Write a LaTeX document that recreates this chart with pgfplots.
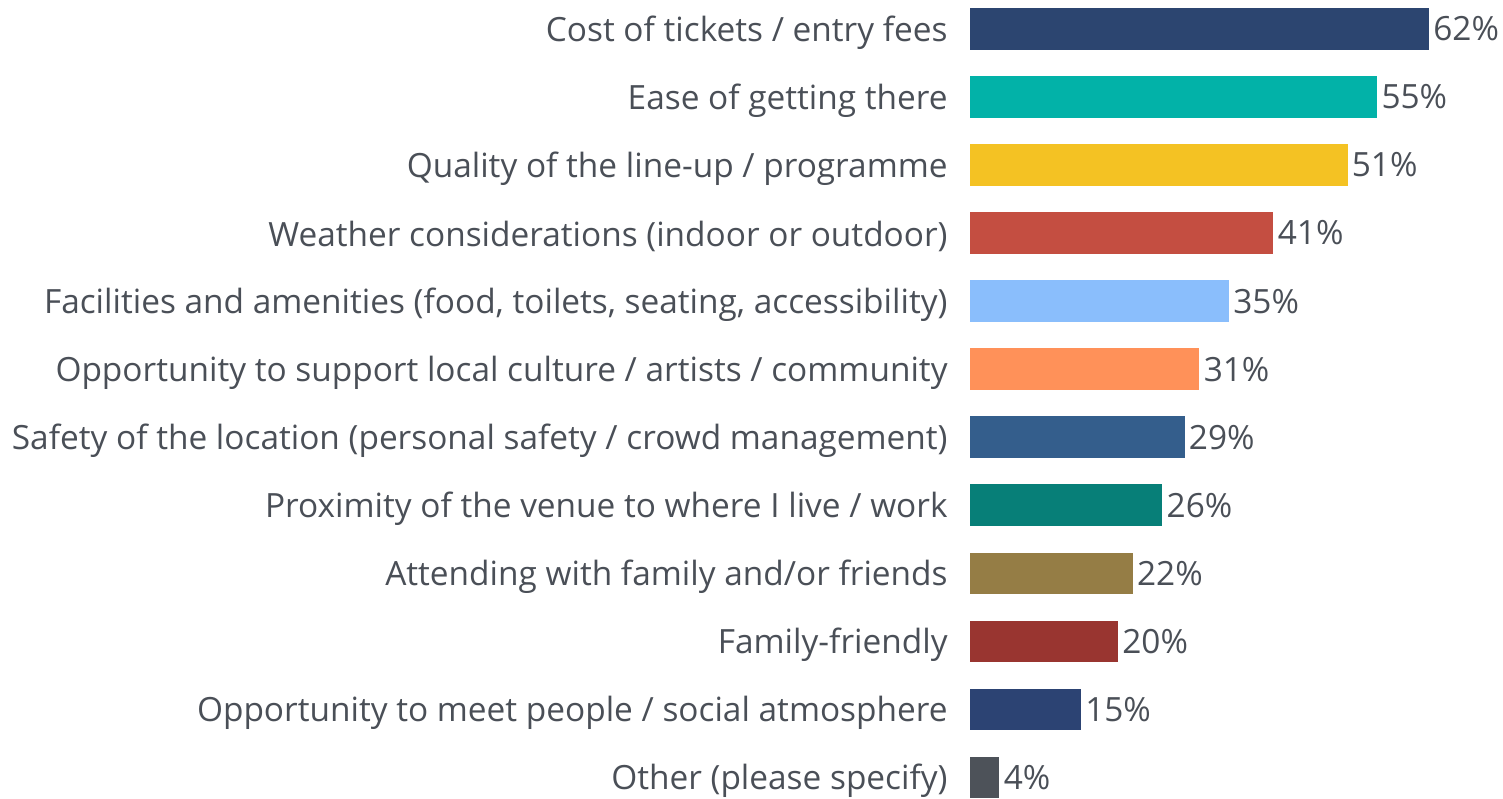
\documentclass[border=0pt]{standalone}
\usepackage{fontspec}
\setmainfont{Open Sans}
\usepackage{pgfplots}
\pgfplotsset{compat=1.18}
\definecolor{txt}{HTML}{4A4F57}
\definecolor{c1}{HTML}{2C4570}
\definecolor{c2}{HTML}{02B2A8}
\definecolor{c3}{HTML}{F4C223}
\definecolor{c4}{HTML}{C44E41}
\definecolor{c5}{HTML}{8ABEFC}
\definecolor{c6}{HTML}{FF9159}
\definecolor{c7}{HTML}{345E8C}
\definecolor{c8}{HTML}{077F78}
\definecolor{c9}{HTML}{957D45}
\definecolor{c10}{HTML}{993530}
\definecolor{c11}{HTML}{2C4373}
\definecolor{c12}{HTML}{4D5259}
\begin{document}
\begin{tikzpicture}
\begin{axis}[
  xbar, bar shift=0pt, bar width=21pt,
  scale only axis, width=267.5pt, height=401.5pt,
  xmin=0, xmax=71.8, ymin=-0.423, ymax=11.30, y dir=reverse,
  axis line style={draw=none}, tick style={draw=none},
  major tick length=0pt,
  xtick=\empty, ytick={0,...,11},
  yticklabels={Cost of tickets / entry fees,
    Ease of getting there,
    Quality of the line-up / programme,
    Weather considerations (indoor or outdoor),
    {Facilities and amenities (food, toilets, seating, accessibility)},
    Opportunity to support local culture / artists / community,
    Safety of the location (personal safety / crowd management),
    Proximity of the venue to where I live / work,
    Attending with family and/or friends,
    Family-friendly,
    Opportunity to meet people / social atmosphere,
    Other (please specify)},
  yticklabel style={font=\fontsize{16.8}{19}\selectfont, text=txt, inner ysep=0pt, inner xsep=6pt, xshift=-5pt, yshift=-1.8pt},
  point meta=x,
  /pgf/number format/assume math mode=true,
  nodes near coords={\pgfmathprintnumber{\pgfplotspointmeta}\%},
  nodes near coords style={font=\fontsize{16.8}{19}\selectfont, text=txt, anchor=west, inner xsep=2pt, inner ysep=0pt},
  clip=false,
]
\addplot[fill=c1, draw=none] coordinates {(62,0)};
\addplot[fill=c2, draw=none] coordinates {(55,1)};
\addplot[fill=c3, draw=none] coordinates {(51,2)};
\addplot[fill=c4, draw=none] coordinates {(41,3)};
\addplot[fill=c5, draw=none] coordinates {(35,4)};
\addplot[fill=c6, draw=none] coordinates {(31,5)};
\addplot[fill=c7, draw=none] coordinates {(29,6)};
\addplot[fill=c8, draw=none] coordinates {(26,7)};
\addplot[fill=c9, draw=none] coordinates {(22,8)};
\addplot[fill=c10, draw=none] coordinates {(20,9)};
\addplot[fill=c11, draw=none] coordinates {(15,10)};
\addplot[fill=c12, draw=none] coordinates {(4,11)};
\end{axis}
\end{tikzpicture}
\end{document}
